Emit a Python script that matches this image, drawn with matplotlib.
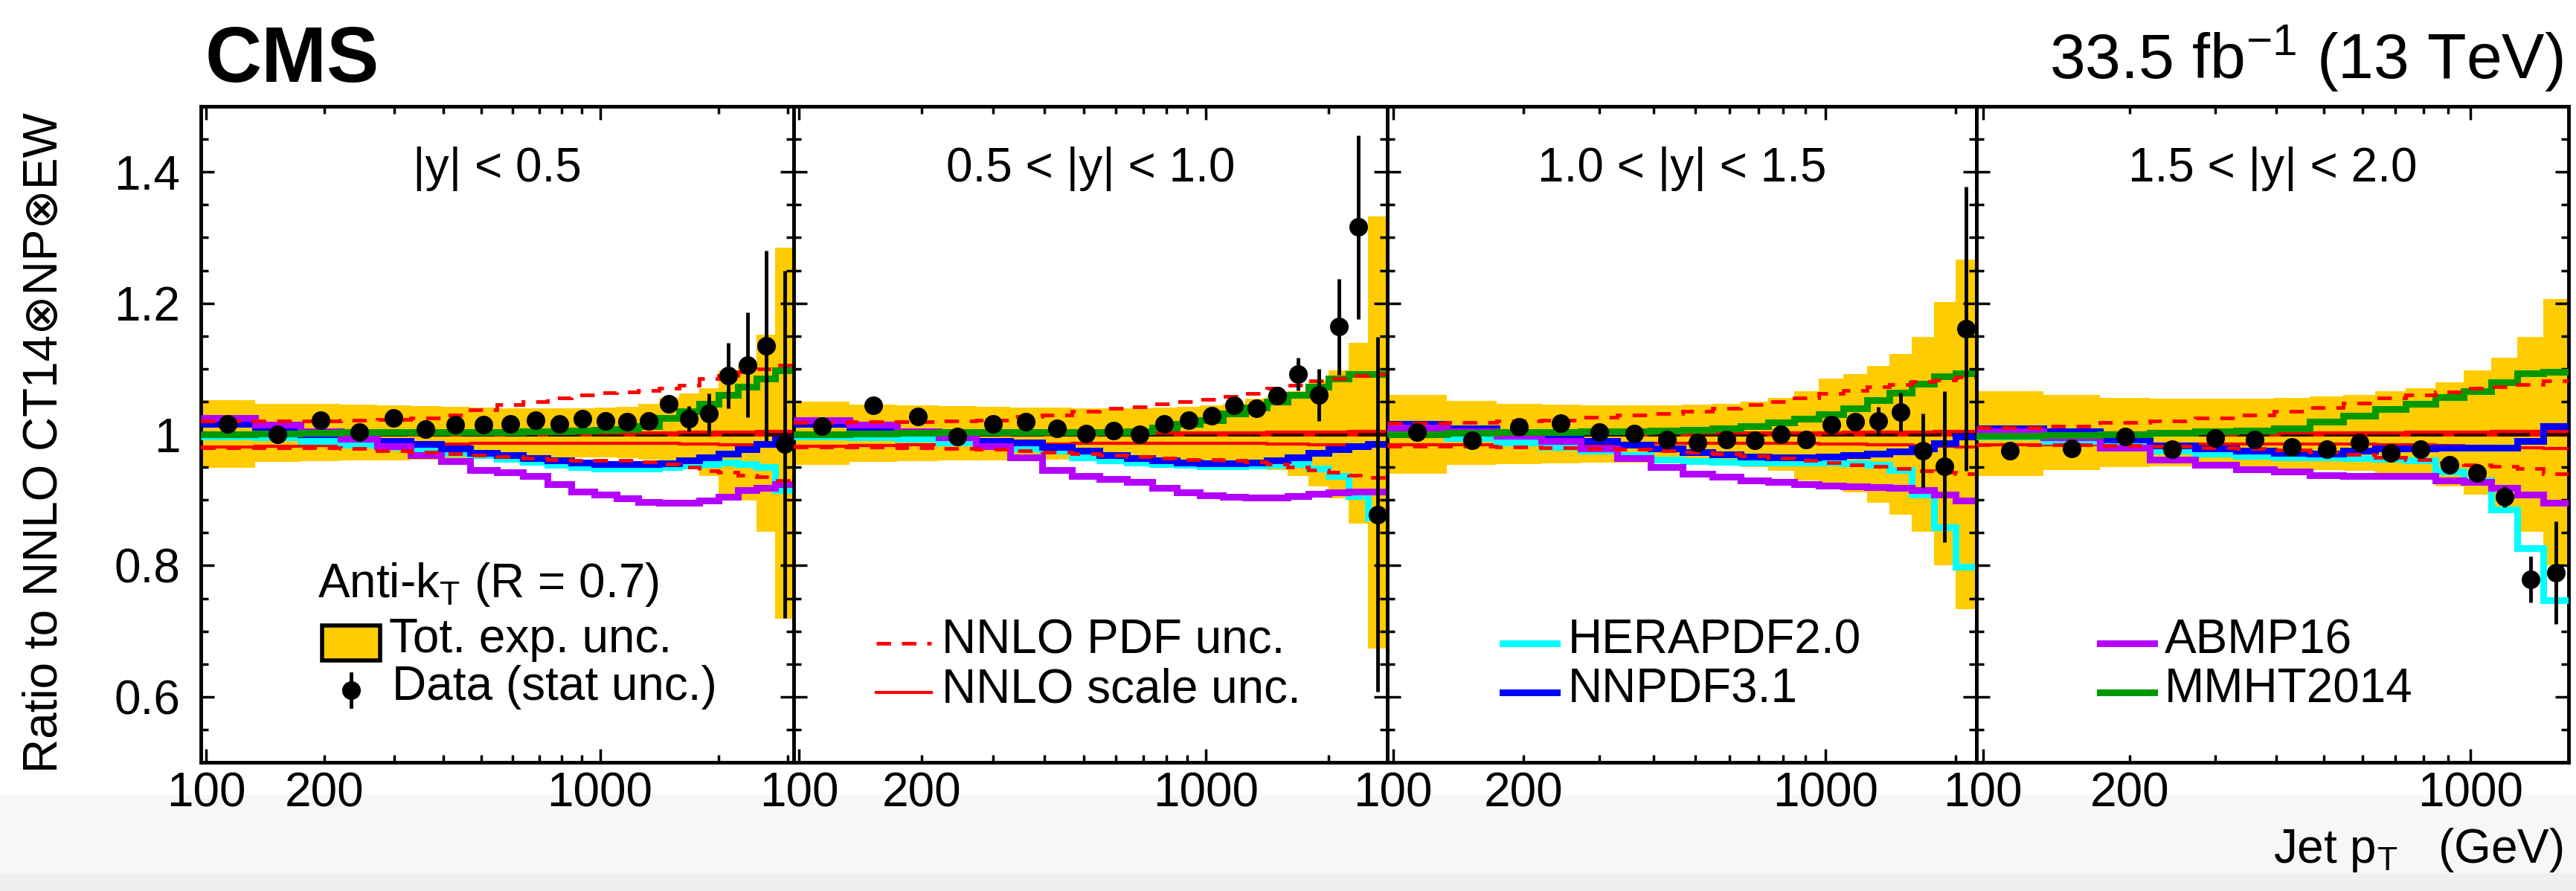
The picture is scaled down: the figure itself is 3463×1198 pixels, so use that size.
import numpy as np
import matplotlib
matplotlib.use('Agg')
import matplotlib.pyplot as plt
from matplotlib.patches import Rectangle
from matplotlib.ticker import MultipleLocator

plt.rcParams['font.family'] = ['Liberation Sans', 'DejaVu Sans']
plt.rcParams['mathtext.fontset'] = 'custom'
plt.rcParams['mathtext.rm'] = 'Liberation Sans'
plt.rcParams['mathtext.it'] = 'Liberation Sans:italic'
plt.rcParams['mathtext.bf'] = 'Liberation Sans:bold'

# jet pT bin edges (GeV), shared by all rapidity bins
pt_edges = [97, 133, 174, 220, 272, 330, 395, 468, 548, 638, 737, 846, 967,
            1101, 1248, 1410, 1588, 1784, 2000, 2238, 2500, 2787, 3103]

titles = ['|y| < 0.5', '0.5 < |y| < 1.0', '1.0 < |y| < 1.5', '1.5 < |y| < 2.0']

# data / theory ratio, one list per rapidity bin
data_y = [
    [1.016, 1.000, 1.022, 1.003, 1.025, 1.008, 1.015, 1.015, 1.016, 1.022, 1.016,
     1.024, 1.020, 1.019, 1.020, 1.047, 1.024, 1.032, 1.090, 1.106, 1.135, 0.985],
    [1.013, 1.044, 1.027, 0.997, 1.016, 1.019, 1.009, 1.001, 1.006, 1.000, 1.016,
     1.021, 1.028, 1.044, 1.040, 1.059, 1.092, 1.060, 1.164, 1.316, 0.878],
    [1.003, 0.991, 1.011, 1.017, 1.003, 1.001, 0.992, 0.987, 0.992, 0.991, 1.000,
     0.992, 1.015, 1.019, 1.020, 1.034, 0.975, 0.951, 1.161],
    [0.975, 0.978, 0.997, 0.977, 0.994, 0.992, 0.981, 0.977, 0.987, 0.972, 0.977,
     0.953, 0.941, 0.905, 0.779, 0.789],
]
data_err = [
    [0.002, 0.002, 0.002, 0.002, 0.002, 0.003, 0.003, 0.003, 0.004, 0.004, 0.005,
     0.005, 0.006, 0.007, 0.008, 0.012, 0.019, 0.030, 0.050, 0.080, 0.145, 0.265],
    [0.002, 0.002, 0.002, 0.002, 0.002, 0.003, 0.003, 0.003, 0.004, 0.004, 0.005,
     0.005, 0.006, 0.007, 0.009, 0.012, 0.025, 0.040, 0.073, 0.140, 0.270],
    [0.002, 0.002, 0.003, 0.003, 0.003, 0.003, 0.004, 0.004, 0.005, 0.005, 0.006,
     0.007, 0.008, 0.010, 0.022, 0.030, 0.057, 0.115, 0.217],
    [0.003, 0.003, 0.003, 0.003, 0.004, 0.004, 0.004, 0.005, 0.005, 0.006, 0.007,
     0.008, 0.010, 0.016, 0.035, 0.078],
]

# total experimental uncertainty band (upper / lower edge)
band_up = [
    [1.052, 1.047, 1.046, 1.045, 1.044, 1.043, 1.042, 1.041, 1.040, 1.040, 1.040,
     1.040, 1.041, 1.042, 1.047, 1.055, 1.062, 1.070, 1.098, 1.104, 1.152, 1.285],
    [1.050, 1.045, 1.044, 1.043, 1.042, 1.041, 1.041, 1.040, 1.040, 1.040, 1.041,
     1.042, 1.044, 1.046, 1.054, 1.060, 1.066, 1.082, 1.098, 1.139, 1.332],
    [1.060, 1.051, 1.047, 1.045, 1.044, 1.044, 1.044, 1.045, 1.047, 1.050, 1.055,
     1.066, 1.085, 1.092, 1.104, 1.123, 1.149, 1.202, 1.266],
    [1.066, 1.060, 1.055, 1.054, 1.054, 1.054, 1.056, 1.058, 1.060, 1.066, 1.070,
     1.079, 1.098, 1.117, 1.149, 1.206],
]
band_dn = [
    [0.949, 0.958, 0.959, 0.960, 0.960, 0.961, 0.962, 0.963, 0.964, 0.965, 0.965,
     0.965, 0.965, 0.964, 0.962, 0.959, 0.958, 0.937, 0.905, 0.899, 0.851, 0.719],
    [0.953, 0.958, 0.959, 0.960, 0.960, 0.961, 0.961, 0.962, 0.962, 0.962, 0.962,
     0.961, 0.960, 0.958, 0.953, 0.946, 0.937, 0.921, 0.902, 0.864, 0.674],
    [0.940, 0.953, 0.955, 0.956, 0.957, 0.957, 0.957, 0.955, 0.953, 0.950, 0.945,
     0.930, 0.921, 0.911, 0.896, 0.877, 0.851, 0.800, 0.734],
    [0.937, 0.946, 0.950, 0.951, 0.951, 0.950, 0.948, 0.946, 0.944, 0.940, 0.937,
     0.921, 0.908, 0.889, 0.851, 0.800],
]

# NNLO PDF uncertainty (dashed) and scale uncertainty (solid)
pdf_up = [
    [1.020, 1.020, 1.020, 1.021, 1.023, 1.025, 1.030, 1.037, 1.045, 1.050, 1.055,
     1.060, 1.063, 1.065, 1.067, 1.070, 1.075, 1.085, 1.090, 1.095, 1.100, 1.105],
    [1.018, 1.019, 1.019, 1.020, 1.022, 1.027, 1.030, 1.035, 1.040, 1.042, 1.046,
     1.050, 1.053, 1.058, 1.062, 1.070, 1.075, 1.082, 1.085, 1.090, 1.092],
    [1.017, 1.018, 1.020, 1.022, 1.026, 1.029, 1.032, 1.035, 1.040, 1.045, 1.050,
     1.056, 1.062, 1.067, 1.072, 1.076, 1.080, 1.083, 1.087],
    [1.010, 1.013, 1.018, 1.020, 1.025, 1.030, 1.035, 1.041, 1.048, 1.055, 1.060,
     1.065, 1.070, 1.073, 1.076, 1.082],
]
pdf_dn = [
    [0.980, 0.980, 0.980, 0.978, 0.975, 0.973, 0.970, 0.968, 0.966, 0.964, 0.962,
     0.960, 0.960, 0.960, 0.958, 0.955, 0.950, 0.945, 0.942, 0.938, 0.935, 0.930],
    [0.981, 0.981, 0.980, 0.979, 0.977, 0.975, 0.973, 0.970, 0.968, 0.966, 0.964,
     0.962, 0.961, 0.960, 0.958, 0.955, 0.950, 0.946, 0.942, 0.938, 0.934],
    [0.982, 0.982, 0.981, 0.980, 0.979, 0.977, 0.975, 0.973, 0.970, 0.967, 0.964,
     0.960, 0.957, 0.954, 0.951, 0.948, 0.945, 0.942, 0.940],
    [0.984, 0.984, 0.983, 0.982, 0.980, 0.978, 0.976, 0.973, 0.969, 0.965, 0.961,
     0.957, 0.954, 0.951, 0.948, 0.940],
]
scale_up = [
    [1.002, 1.002, 1.002, 1.002, 1.002, 1.002, 1.002, 1.002, 1.002, 1.002, 1.002,
     1.002, 1.002, 1.002, 1.002, 1.002, 1.003, 1.003, 1.003, 1.003, 1.004, 1.004],
    [1.002, 1.002, 1.002, 1.002, 1.002, 1.002, 1.002, 1.002, 1.002, 1.002, 1.002,
     1.002, 1.002, 1.002, 1.002, 1.003, 1.003, 1.003, 1.003, 1.004, 1.004],
    [1.002, 1.002, 1.002, 1.002, 1.002, 1.002, 1.002, 1.002, 1.002, 1.002, 1.002,
     1.002, 1.002, 1.003, 1.003, 1.003, 1.003, 1.004, 1.004],
    [1.002, 1.002, 1.002, 1.002, 1.002, 1.002, 1.002, 1.002, 1.002, 1.002, 1.003,
     1.003, 1.003, 1.004, 1.004, 1.004],
]
scale_dn = [
    [0.981, 0.982, 0.983, 0.984, 0.984, 0.985, 0.985, 0.986, 0.986, 0.986, 0.986,
     0.986, 0.986, 0.986, 0.986, 0.986, 0.985, 0.985, 0.984, 0.984, 0.983, 0.982],
    [0.982, 0.983, 0.984, 0.984, 0.985, 0.985, 0.985, 0.986, 0.986, 0.986, 0.986,
     0.986, 0.986, 0.986, 0.986, 0.985, 0.985, 0.984, 0.984, 0.983, 0.982],
    [0.984, 0.984, 0.985, 0.985, 0.985, 0.986, 0.986, 0.986, 0.986, 0.986, 0.986,
     0.986, 0.985, 0.985, 0.984, 0.984, 0.983, 0.982, 0.981],
    [0.984, 0.984, 0.985, 0.985, 0.985, 0.985, 0.985, 0.985, 0.985, 0.984, 0.984,
     0.983, 0.982, 0.981, 0.980, 0.978],
]

# other PDF sets relative to CT14
hera = [
    [0.997, 0.995, 0.990, 0.984, 0.981, 0.975, 0.972, 0.968, 0.963, 0.958, 0.953,
     0.950, 0.948, 0.948, 0.948, 0.950, 0.952, 0.955, 0.957, 0.955, 0.950, 0.915],
    [0.997, 0.995, 0.993, 0.988, 0.984, 0.978, 0.975, 0.965, 0.960, 0.957, 0.955,
     0.953, 0.951, 0.951, 0.952, 0.954, 0.955, 0.948, 0.937, 0.906, 0.873],
    [1.003, 0.994, 0.987, 0.981, 0.975, 0.968, 0.962, 0.959, 0.958, 0.957, 0.957,
     0.957, 0.957, 0.956, 0.953, 0.946, 0.908, 0.858, 0.798],
    [0.997, 0.990, 0.984, 0.975, 0.970, 0.967, 0.965, 0.965, 0.964, 0.963, 0.960,
     0.943, 0.930, 0.886, 0.826, 0.747],
]
nnpdf = [
    [1.016, 1.006, 1.000, 0.993, 0.990, 0.985, 0.978, 0.972, 0.968, 0.964, 0.960,
     0.957, 0.955, 0.955, 0.955, 0.956, 0.960, 0.965, 0.970, 0.977, 0.985, 0.992],
    [1.016, 1.006, 1.003, 0.997, 0.990, 0.987, 0.981, 0.975, 0.968, 0.964, 0.960,
     0.957, 0.956, 0.956, 0.957, 0.960, 0.965, 0.972, 0.977, 0.982, 0.985],
    [1.016, 1.009, 1.000, 0.997, 0.990, 0.984, 0.978, 0.973, 0.969, 0.966, 0.965,
     0.965, 0.966, 0.968, 0.971, 0.974, 0.978, 0.986, 0.997],
    [1.009, 1.004, 0.992, 0.983, 0.979, 0.975, 0.972, 0.971, 0.975, 0.978, 0.979,
     0.980, 0.980, 0.980, 0.990, 1.013],
]
abmp = [
    [1.025, 1.015, 1.005, 0.993, 0.982, 0.968, 0.959, 0.946, 0.942, 0.937, 0.924,
     0.913, 0.908, 0.902, 0.897, 0.896, 0.896, 0.899, 0.905, 0.915, 0.918, 0.924],
    [1.022, 1.015, 1.005, 0.995, 0.982, 0.965, 0.946, 0.937, 0.932, 0.927, 0.918,
     0.911, 0.907, 0.905, 0.904, 0.904, 0.906, 0.909, 0.912, 0.913, 0.913],
    [1.010, 1.005, 0.998, 0.990, 0.978, 0.964, 0.950, 0.940, 0.935, 0.930, 0.927,
     0.924, 0.922, 0.921, 0.920, 0.918, 0.915, 0.908, 0.899],
    [1.005, 0.995, 0.980, 0.962, 0.953, 0.947, 0.943, 0.938, 0.937, 0.937, 0.936,
     0.930, 0.927, 0.918, 0.908, 0.896],
]
mmht = [
    [1.000, 1.001, 1.002, 1.003, 1.003, 1.003, 1.003, 1.003, 1.003, 1.004, 1.005,
     1.006, 1.007, 1.008, 1.013, 1.025, 1.035, 1.047, 1.060, 1.073, 1.085, 1.097],
    [1.000, 1.001, 1.002, 1.003, 1.003, 1.003, 1.003, 1.003, 1.003, 1.005, 1.010,
     1.016, 1.022, 1.032, 1.041, 1.050, 1.060, 1.073, 1.085, 1.092, 1.092],
    [1.000, 1.002, 1.003, 1.003, 1.004, 1.005, 1.006, 1.007, 1.009, 1.013, 1.018,
     1.024, 1.031, 1.040, 1.052, 1.064, 1.077, 1.088, 1.093],
    [0.998, 0.999, 1.000, 1.002, 1.004, 1.006, 1.009, 1.019, 1.028, 1.038, 1.047,
     1.057, 1.066, 1.079, 1.093, 1.095],
]

YELLOW = '#FFCC00'
C_HERA = '#00FFFF'
C_NNPDF = '#0000FF'
C_ABMP = '#B400FF'
C_MMHT = '#009900'
DASH = (0, (4, 3))
FS = 46

W, H = 3463, 1198
fig = plt.figure(figsize=(W / 100, H / 100), dpi=100)
# light grey strip at the very bottom (as in the source image)
fig.patches.append(Rectangle((0, 0), 1, 0.108, transform=fig.transFigure,
                             color='#f7f7f7', zorder=-10))
fig.patches.append(Rectangle((0, 0), 1, 0.02, transform=fig.transFigure,
                             color='#efefef', zorder=-9))

lefts = [270, 1067, 1865, 2657]
widths = [797, 798, 792, 796]
bottom, top = 1025, 143


def leg_line(ax, x0, x1, y, label, **style):
    ax.plot([x0, x1], [y, y], transform=ax.transAxes, clip_on=False, **style)
    ax.text(x1 + 0.018, y + 0.004, label, transform=ax.transAxes,
            va='center', ha='left', fontsize=FS)


axes = []
for i in range(4):
    ax = fig.add_axes([lefts[i] / W, 1 - bottom / H, widths[i] / W, (bottom - top) / H])
    axes.append(ax)
    n = len(data_y[i])
    edges = np.array(pt_edges[:n + 1], dtype=float)
    centers = np.sqrt(edges[:-1] * edges[1:])

    ax.stairs(band_up[i], edges, baseline=band_dn[i], fill=True,
              color=YELLOW, lw=0, zorder=1)
    # CT14 reference at 1: red with dark dashes on top
    ax.axhline(1.0, color='red', lw=3.5, zorder=2)
    ax.axhline(1.0, color='#3a0000', lw=3.5, ls=(0, (9, 3)), zorder=2.1)
    ax.stairs(scale_up[i], edges, baseline=None, color='red', lw=3, zorder=3)
    ax.stairs(scale_dn[i], edges, baseline=None, color='red', lw=3, zorder=3)
    ax.stairs(hera[i], edges, baseline=None, color=C_HERA, lw=6.5, zorder=4)
    ax.stairs(nnpdf[i], edges, baseline=None, color=C_NNPDF, lw=6.5, zorder=4)
    ax.stairs(abmp[i], edges, baseline=None, color=C_ABMP, lw=6.5, zorder=4)
    ax.stairs(mmht[i], edges, baseline=None, color=C_MMHT, lw=6.5, zorder=4)
    ax.stairs(pdf_up[i], edges, baseline=None, color='red', lw=3.5,
              ls=DASH, zorder=5)
    ax.stairs(pdf_dn[i], edges, baseline=None, color='red', lw=3.5,
              ls=DASH, zorder=5)
    ax.errorbar(centers, data_y[i], yerr=data_err[i], fmt='o', color='black',
                ms=17, elinewidth=3.5, capsize=0, zorder=10)

    ax.set_xscale('log')
    ax.set_xticks([100, 1000], labels=['100', '1000'])
    minors = [200, 300, 400, 500, 600, 700, 800, 900, 2000, 3000]
    ax.set_xticks(minors, labels=['200'] + [''] * (len(minors) - 1), minor=True)
    ax.set_xlim(pt_edges[0], edges[-1])
    ax.set_yticks([0.6, 0.8, 1.0, 1.2, 1.4], labels=['0.6', '0.8', '1', '1.2', '1.4'])
    ax.yaxis.set_minor_locator(MultipleLocator(0.05))
    ax.set_ylim(0.5, 1.5)
    ax.tick_params(which='both', direction='in', top=True, right=True,
                   labelsize=FS, width=2.5)
    ax.tick_params(which='major', length=13)
    ax.tick_params(which='minor', length=7)
    ax.tick_params(axis='x', which='both', pad=9)
    ax.tick_params(axis='y', which='both', pad=20)
    if i > 0:
        ax.tick_params(axis='y', labelleft=False)
    for sp in ax.spines.values():
        sp.set_linewidth(3.5)

    ax.text(0.5, 0.905, titles[i], transform=ax.transAxes, ha='center',
            va='center', fontsize=FS)

# legends
ax = axes[0]
ax.text(0.197, 0.271, r'Anti-k$_\mathrm{T}$ (R = 0.7)', transform=ax.transAxes,
        va='center', ha='left', fontsize=FS)
ax.add_patch(Rectangle((0.204, 0.155), 0.098, 0.054, transform=ax.transAxes,
                       facecolor=YELLOW, edgecolor='black', lw=4, zorder=12))
ax.text(0.317, 0.187, 'Tot. exp. unc.', transform=ax.transAxes,
        va='center', ha='left', fontsize=FS)
ax.plot([0.253, 0.253], [0.085, 0.135], transform=ax.transAxes, color='black', lw=3.5)
ax.plot([0.253], [0.11], 'o', transform=ax.transAxes, color='black', ms=17)
ax.text(0.322, 0.114, 'Data (stat unc.)', transform=ax.transAxes,
        va='center', ha='left', fontsize=FS)

leg_line(axes[1], 0.139, 0.232, 0.181, 'NNLO PDF unc.', color='red', lw=3.5, ls=DASH)
leg_line(axes[1], 0.139, 0.232, 0.107, 'NNLO scale unc.', color='red', lw=3)
leg_line(axes[2], 0.196, 0.288, 0.181, 'HERAPDF2.0', color=C_HERA, lw=6.5)
leg_line(axes[2], 0.196, 0.288, 0.107, 'NNPDF3.1', color=C_NNPDF, lw=6.5)
leg_line(axes[3], 0.208, 0.300, 0.181, 'ABMP16', color=C_ABMP, lw=6.5)
leg_line(axes[3], 0.208, 0.300, 0.107, 'MMHT2014', color=C_MMHT, lw=6.5)

fig.text(276 / W, 1 - 110 / H, 'CMS', fontsize=76, fontweight='bold',
         ha='left', va='baseline')
fig.text(3446 / W, 1 - 106 / H, r'33.5 fb$^{-1}$ (13 TeV)', fontsize=62,
         ha='right', va='baseline')
fig.text(60 / W, 0.503, 'Ratio to NNLO CT14⊗NP⊗EW', rotation=90,
         ha='center', va='center', fontsize=FS)
fig.text(3446 / W, 1 - 1143 / H, r'Jet p$_\mathrm{T}$   (GeV)', ha='right',
         va='center', fontsize=FS)

fig.savefig('out.png', dpi=100)
